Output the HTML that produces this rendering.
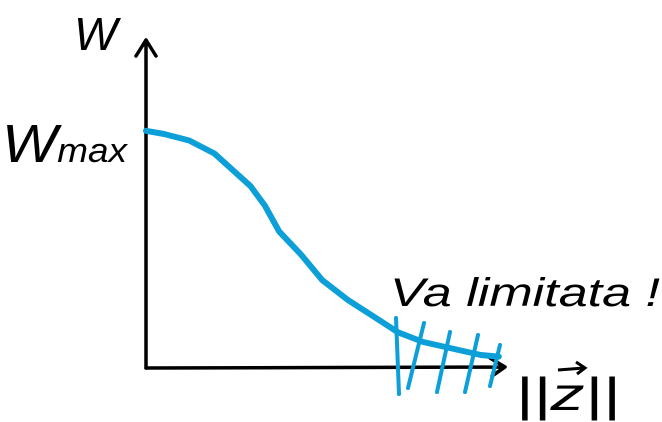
<!DOCTYPE html>
<html><head><meta charset="utf-8"><style>
html,body{margin:0;padding:0;background:#fff;width:662px;height:422px;overflow:hidden}
text{font-family:"Liberation Sans",sans-serif;fill:#000}
</style></head><body>
<svg width="662" height="422" viewBox="0 0 662 422">
<g stroke="#000" stroke-width="3.5" fill="none" stroke-linecap="round" stroke-linejoin="round">
 <path d="M146,368 L146,40 M136,56 L146,40 L156,56"/>
 <path d="M146,368 L505,367 M490,358 L505,367 L492,376"/>
</g>
<text x="74" y="50" font-size="46" font-style="italic">W</text>
<text x="2" y="162" font-size="54" font-style="italic" textLength="125" lengthAdjust="spacingAndGlyphs">W<tspan font-size="34">max</tspan></text>
<text x="390" y="306" font-size="40" font-style="italic" textLength="270" lengthAdjust="spacingAndGlyphs">Va limitata !</text>
<text x="515" y="410" font-size="46" font-style="italic" textLength="105" lengthAdjust="spacingAndGlyphs">||z||</text>
<path d="M558,370 L584,368 M576,362 L585,368 L577,374" stroke="#000" stroke-width="3" fill="none"/>
<g id="series" stroke="#0d9fd8" stroke-width="6" fill="none" stroke-linecap="round" stroke-linejoin="round"></g>
<g stroke="#0d9fd8" stroke-width="4" stroke-linecap="round">
 <line x1="396" y1="318" x2="399" y2="394"/>
 <line x1="408" y1="388" x2="424" y2="323"/>
 <line x1="437" y1="392" x2="450" y2="332"/>
 <line x1="465" y1="392" x2="478" y2="335"/>
 <line x1="490" y1="386" x2="500" y2="345"/>
</g>
</svg>
<script>
const xs=[0,0.05,0.12,0.19,0.25,0.29,0.33,0.37,0.43,0.49,0.56,0.63,0.70,0.77,0.85,0.93,0.98];
const ys=[0.73,0.72,0.70,0.66,0.60,0.56,0.50,0.42,0.35,0.27,0.21,0.16,0.11,0.08,0.06,0.04,0.035];
const X=v=>146+v*360, Y=v=>368-v*325;
let d='';
xs.forEach((x,i)=>{d+=(i?'L':'M')+X(x).toFixed(1)+','+Y(ys[i]).toFixed(1)});
const p=document.createElementNS('http://www.w3.org/2000/svg','path');
p.setAttribute('d',d);


document.getElementById('series').appendChild(p);
</script>
</body></html>
